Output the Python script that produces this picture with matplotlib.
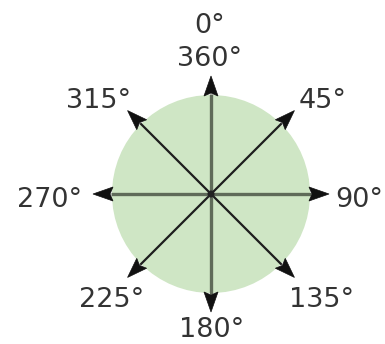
import numpy as np
import matplotlib
matplotlib.use("Agg")
import matplotlib.pyplot as plt
from matplotlib.patches import Circle, Polygon

# ---- data ----
angles = [0, 45, 90, 135, 180, 225, 270, 315]
labels = ["0°", "45°", "90°", "135°", "180°", "225°", "270°", "315°"]
full_turn_label = "360°"

# ---- layout / style (pixel units) ----
W, H = 385, 344
cx, cy = 211, 194
circle_r = 99
arrow_len = 118
head_len = 20
head_half = 7
fill_color = "#cfe6c5"
text_color = "#333333"
font_px = 27
fontsize = font_px * 72 / 100
# label baseline positions relative to center (x center, baseline y)
label_off = {
    0: (-1, -161), 45: (111.5, -86), 90: (148, 13), 135: (110.5, 113),
    180: (0.5, 143), 225: (-99.5, 113), 270: (-161.5, 13), 315: (-112.5, -86),
}
full_turn_off = (-1, -128)

fig = plt.figure(figsize=(W / 100, H / 100), dpi=100)
ax = fig.add_axes([0, 0, 1, 1])
ax.set_xlim(0, W)
ax.set_ylim(H, 0)
ax.axis("off")

ax.add_patch(Circle((cx, cy), circle_r, facecolor=fill_color, edgecolor="none", zorder=1))

for a, lab in zip(angles, labels):
    t = np.deg2rad(a)
    dx, dy = np.sin(t), -np.cos(t)
    tipx, tipy = cx + arrow_len * dx, cy + arrow_len * dy
    bx, by = cx + (arrow_len - head_len) * dx, cy + (arrow_len - head_len) * dy
    straight = a % 90 == 0
    ax.plot([cx, bx + 2 * dx], [cy, by + 2 * dy],
            color="#5f6b59" if straight else "#1e1e1e",
            lw=2.4 if straight else 1.6, solid_capstyle="butt", zorder=2)
    px, py = -dy, dx
    head = Polygon([(tipx, tipy),
                    (bx + head_half * px, by + head_half * py),
                    (bx + 3 * dx, by + 3 * dy),
                    (bx - head_half * px, by - head_half * py)],
                   closed=True, facecolor="#111111", edgecolor="#111111", lw=0.5, zorder=3)
    ax.add_patch(head)
    ox, oy = label_off[a]
    ax.text(cx + ox, cy + oy, lab, ha="center", va="baseline",
            fontsize=fontsize, color=text_color, family="DejaVu Sans", zorder=4)

ax.text(cx + full_turn_off[0], cy + full_turn_off[1], full_turn_label, ha="center",
        va="baseline", fontsize=fontsize, color=text_color, family="DejaVu Sans", zorder=4)

ax.add_patch(Circle((cx, cy), 3.5, facecolor="#222222", edgecolor="none", zorder=3))

fig.savefig("out.png", dpi=100)
